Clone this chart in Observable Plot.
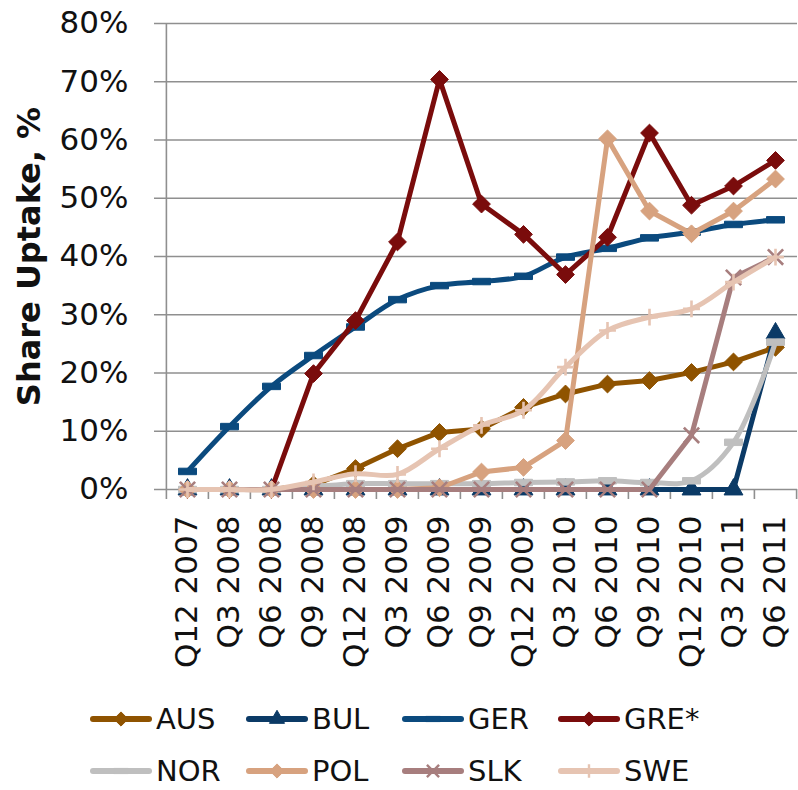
<!DOCTYPE html>
<html><head><meta charset="utf-8">
<script src="https://cdn.jsdelivr.net/npm/d3@7"></script>
<script src="https://cdn.jsdelivr.net/npm/@observablehq/plot@0.6"></script>
<style>
body{margin:0;background:#fff;}
#chart{position:relative;width:798px;height:790px;font-family:"DejaVu Sans",Verdana,sans-serif;background:#fff;}
.li{position:absolute;display:flex;align-items:center;height:30px;font-size:29px;line-height:30px;color:#111;white-space:nowrap;}
.li svg{display:block;}
.li span{margin-left:4px;}
</style></head><body><div id="chart"></div>
<script>
// ---- data ----
const quarters = ["Q12 2007","Q3 2008","Q6 2008","Q9 2008","Q12 2008","Q3 2009","Q6 2009","Q9 2009","Q12 2009","Q3 2010","Q6 2010","Q9 2010","Q12 2010","Q3 2011","Q6 2011"];
const AUS = [0,0,0,0.8,3.6,7.0,9.8,10.4,14.1,16.4,18.1,18.7,20.1,21.9,24.4];
const BUL = [0,0,0,0,0,0,0,0,0,0,0,0,0,0,26.8];
const GER = [3.1,10.8,17.7,23.0,27.9,32.6,35.0,35.7,36.6,39.9,41.4,43.2,44.2,45.5,46.3];
const GRE = [0,0,0,19.9,29.0,42.5,70.4,49.0,43.8,36.9,43.3,61.2,48.8,52.1,56.5];
const NOR = [0,0,0,0.5,1.0,1.0,1.0,1.0,1.2,1.3,1.5,1.2,1.5,8.1,25.3];
const POL = [0,0,0,0,0,0,0.3,3.0,3.8,8.4,60.2,47.8,43.9,47.8,53.3];
const SLK = [0,0,0,0,0,0,0,0,0,0,0,0,9.3,36.4,39.9];
const SWE = [0,0,0,1.3,2.7,2.6,7.0,11.0,13.6,21.0,27.3,29.6,31.0,35.6,39.9];
const seriesNames = ["AUS","BUL","GER","GRE*","NOR","POL","SLK","SWE"];
const seriesValues = [AUS,BUL,GER,GRE,NOR,POL,SLK,SWE];
const yTicks = [0,10,20,30,40,50,60,70,80];
const yTitle = "Share Uptake, %";

// ---- styles ----
const dash = {draw(ctx, size){ const r = Math.sqrt(size/Math.PI); ctx.moveTo(-r,-r*0.36); ctx.lineTo(r,-r*0.36); ctx.lineTo(r,r*0.36); ctx.lineTo(-r,r*0.36); ctx.closePath(); }};
const styles = {
  "AUS":  {color:"#8F5300", symbol:"diamond2", r:8, filled:true, curve:"linear"},
  "BUL":  {color:"#0B3A66", symbol:"triangle", r:7, filled:true, curve:"linear"},
  "GER":  {color:"#0B4A7E", symbol:dash, r:9, filled:true, curve:"catmull-rom"},
  "GRE*": {color:"#7A0C0C", symbol:"diamond2", r:8, filled:true, curve:"linear"},
  "NOR":  {color:"#BFBFBF", symbol:dash, r:9, filled:true, curve:"catmull-rom"},
  "POL":  {color:"#D7A27F", symbol:"diamond2", r:8, filled:true, curve:"linear"},
  "SLK":  {color:"#A77E7E", symbol:"times", r:7, filled:false, curve:"linear"},
  "SWE":  {color:"#E6C4B2", symbol:"plus", r:5.5, filled:false, curve:"catmull-rom"}
};

const rows = [];
seriesNames.forEach((s, k) => seriesValues[k].forEach((v, i) => rows.push({series:s, q:quarters[i], v})));

const W = 798, H = 690, ML = 164, MR = 1, MT = 23, MB = 201;
const half = (W - ML - MR) / quarters.length / 2;
const gridColor = "#8f8f8f";

const marks = [
  Plot.ruleY(yTicks, {stroke:gridColor, strokeWidth:1.6, insetLeft:-10}),
  Plot.ruleX([quarters[0]], {dx:-half, y1:0, y2:80, stroke:gridColor, strokeWidth:1.6}),
  Plot.ruleX(quarters, {dx:-half, y1:0, y2:0, insetBottom:-10, stroke:gridColor, strokeWidth:1.6}),
  Plot.ruleX([quarters[quarters.length-1]], {dx:half, y1:0, y2:0, insetBottom:-10, stroke:gridColor, strokeWidth:1.6}),
  Plot.axisY(yTicks, {tickSize:0, tickPadding:36, tickFormat:d => d + "%", fontSize:31, fill:"#111", label:null}),
  Plot.axisX({tickRotate:-90, tickSize:0, tickPadding:26, fontSize:31, fill:"#111", label:null}),
  Plot.text([yTitle], {frameAnchor:"left", dx:-135, rotate:-90, textAnchor:"middle", lineAnchor:"middle", fontWeight:"bold", fontSize:32, fill:"#111", text:d => d})
];
for (const s of seriesNames) {
  const st = styles[s];
  const d = rows.filter(r => r.series === s);
  marks.push(Plot.line(d, {x:"q", y:"v", stroke:st.color, strokeWidth:5, curve:st.curve, strokeLinejoin:"round", strokeLinecap:"round"}));
  marks.push(Plot.dot(d, st.filled
    ? {x:"q", y:"v", symbol:st.symbol, r:st.r, fill:st.color, stroke:st.color, strokeWidth:1}
    : {x:"q", y:"v", symbol:st.symbol, r:st.r, fill:"none", stroke:st.color, strokeWidth:2.6}));
}

const plot = Plot.plot({
  width:W, height:H, marginLeft:ML, marginRight:MR, marginTop:MT, marginBottom:MB,
  style:{fontFamily:"DejaVu Sans, Verdana, sans-serif", background:"white", overflow:"visible"},
  x:{type:"point", domain:quarters, padding:0.5},
  y:{domain:[0,80]},
  marks
});
const chart = document.getElementById("chart");
chart.appendChild(plot);

// ---- legend ----
const colX = [90, 246, 402, 558];
const rowY = [719, 771];
seriesNames.forEach((s, k) => {
  const st = styles[s];
  const col = k % 4, row = Math.floor(k / 4);
  const div = document.createElement("div");
  div.className = "li";
  div.style.left = colX[col] + "px";
  div.style.top = (rowY[row] - 15) + "px";
  const sym = typeof st.symbol === "string"
    ? {diamond2:d3.symbolDiamond2, triangle:d3.symbolTriangle, times:d3.symbolTimes, plus:d3.symbolPlus}[st.symbol]
    : st.symbol;
  const size = Math.PI * (st.r * 0.8) ** 2;
  const path = d3.symbol(sym, size)();
  const markerAttrs = st.filled ? `fill="${st.color}" stroke="${st.color}"` : `fill="none" stroke="${st.color}" stroke-width="2.4"`;
  div.innerHTML = `<svg width="62" height="30"><line x1="3" y1="15" x2="59" y2="15" stroke="${st.color}" stroke-width="6" stroke-linecap="round"/><path transform="translate(31,15)" d="${path}" ${markerAttrs}/></svg><span>${s}</span>`;
  chart.appendChild(div);
});
</script></body></html>
